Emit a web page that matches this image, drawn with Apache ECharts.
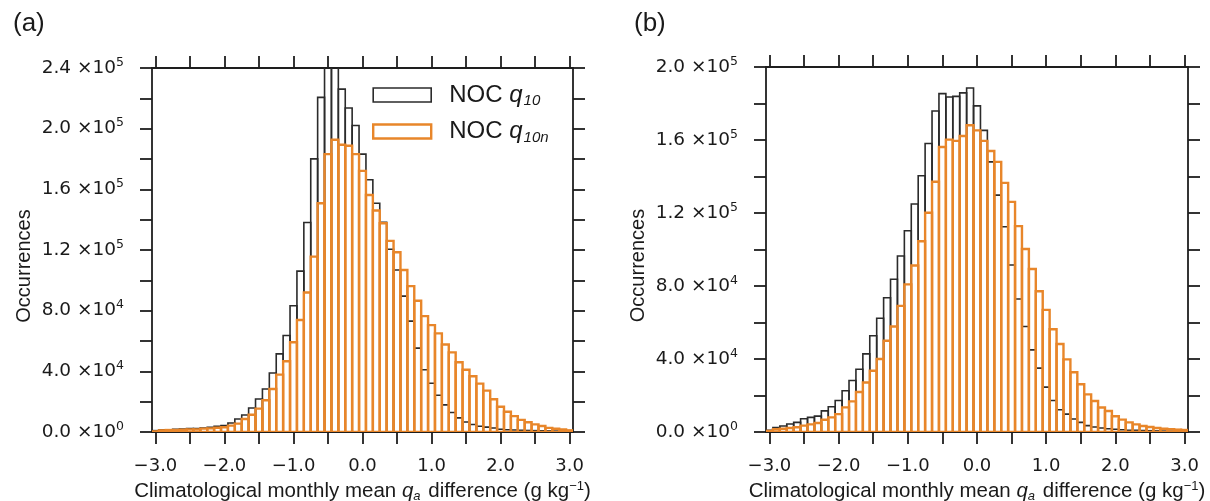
<!DOCTYPE html>
<html>
<head>
<meta charset="utf-8">
<script src="https://cdn.jsdelivr.net/npm/echarts@6/dist/echarts.min.js"></script>
<style>
  html, body { margin: 0; padding: 0; background: #fff; }
  #chart { width: 1210px; height: 501px; }
</style>
</head>
<body>
<div id="chart"></div>
<script>
// Bin centres (g kg-1), bins are 0.1 wide
const binCenters = [-3.0,-2.9,-2.8,-2.7,-2.6,-2.5,-2.4,-2.3,-2.2,-2.1,-2.0,-1.9,-1.8,-1.7,-1.6,-1.5,-1.4,-1.3,-1.2,-1.1,-1.0,-0.9,-0.8,-0.7,-0.6,-0.5,-0.4,-0.3,-0.2,-0.1,0.0,0.1,0.2,0.3,0.4,0.5,0.6,0.7,0.8,0.9,1.0,1.1,1.2,1.3,1.4,1.5,1.6,1.7,1.8,1.9,2.0,2.1,2.2,2.3,2.4,2.5,2.6,2.7,2.8,2.9,3.0];
const binWidth = 0.1;

// Panel (a) occurrences
const countsA_q10 = [900,1500,1500,1700,2000,2200,2200,2600,3100,3700,
  4200,5900,8600,11200,15800,21800,28400,38900,51500,63600,
  83200,106100,138100,180100,220600,243000,241000,226100,213600,202100,
  183200,166300,150800,138300,120500,106800,89600,73100,55300,41000,
  32100,24200,17900,12900,9300,6600,4900,3800,3200,2600,
  1800,1500,1300,1100,1000,900,800,700,600,500,
  400];
const countsA_q10n = [400,1100,1300,1300,1500,1700,1700,2200,2400,2800,
  3100,4200,5500,8600,11400,15400,20900,28400,37800,46600,
  59200,73800,92000,115600,150800,183200,192700,189400,188700,183200,
  172200,156300,146000,137600,126000,118500,106800,96200,86500,76400,
  70500,65000,57700,52500,46000,41000,36800,31900,27300,21600,
  16600,13400,10500,8000,6400,5000,4000,2700,2100,1600,
  1100];

// Panel (b) occurrences
const countsB_q10 = [1000,2500,3300,4400,5300,7300,8000,8700,11600,13800,
  17300,22600,28200,34400,42800,52700,62300,73600,83700,96400,
  110300,124900,140400,158100,175900,185400,183600,183900,185800,188500,
  178700,165300,148000,129800,112500,91500,72900,57800,45000,35000,
  24600,17300,12200,9800,7100,5300,3500,2700,2200,1800,
  1500,1200,1000,900,800,700,600,500,400,300,
  300];
const countsB_q10n = [600,1500,1800,2200,2600,3500,4200,4900,6700,8000,
  9800,13500,16800,21900,27100,33600,40000,50000,57800,69100,
  80900,91200,104500,120100,137100,156200,160200,159500,162200,168100,
  165300,159500,154000,148000,136500,126100,112800,100300,89300,77100,
  66900,56300,48200,39800,32700,26200,20600,17000,13400,11500,
  8600,6800,5300,4200,3300,2700,2200,1800,1500,1300,
  1100];

// Axis ticks and labels
const xRange = [-3.05, 3.05];
const xTickValues = [-3.0,-2.5,-2.0,-1.5,-1.0,-0.5,0.0,0.5,1.0,1.5,2.0,2.5,3.0];
const xLabelValues = [-3.0,-2.0,-1.0,0.0,1.0,2.0,3.0];
const yMaxA = 240000, yMaxB = 200000, yTickStep = 20000;
const yLabelsA = [0,40000,80000,120000,160000,200000,240000];
const yLabelsB = [0,40000,80000,120000,160000,200000];

const seriesNames = ['NOC q10', 'NOC q10n'];
const colQ10 = '#2b2b2b';
const colQ10n = '#e8862a';
const frameColor = '#1e1e1e';
const textColor = '#1a1a1a';

const tickFont = 'DejaVu Sans';
const titleFont = 'Liberation Sans';

function toData(counts) {
  return binCenters.map((c, i) => [c, counts[i]]);
}

// One open rectangle per bin, from the bin edges down to zero
function histRender(color, width) {
  return function (params, api) {
    const c = api.value(0), v = api.value(1);
    const p0 = api.coord([c - binWidth / 2, v]);
    const p1 = api.coord([c + binWidth / 2, 0]);
    return {
      type: 'rect',
      shape: { x: p0[0], y: p0[1], width: p1[0] - p0[0], height: p1[1] - p0[1] },
      style: { fill: null, stroke: color, lineWidth: width }
    };
  };
}

function sciLabel(v) {
  if (v === 0) return '{m|0.0 ×10}{e|0}';
  const e = Math.floor(Math.log10(v) + 1e-9);
  const m = (v / Math.pow(10, e)).toFixed(1);
  return '{m|' + m + ' ×10}{e|' + e + '}';
}
function xLabel(v) {
  return (v < -1e-9 ? '\u2212' : '') + Math.abs(v).toFixed(1);
}

const lineStyle = { color: frameColor, width: 1.8 };

function xAxes(gridIndex) {
  return [{
    type: 'value', gridIndex, position: 'bottom',
    min: xRange[0], max: xRange[1],
    axisLine: { show: true, onZero: false, lineStyle },
    axisTick: { show: true, length: 12, lineStyle, customValues: xTickValues },
    axisLabel: {
      show: true, customValues: xLabelValues, formatter: xLabel, margin: 25,
      fontFamily: tickFont, fontSize: 18, color: textColor
    },
    splitLine: { show: false },
    name: '{t|Climatological monthly mean }{q|q}{sub|a}{t| difference (g kg}{sup|\u22121}{t|)}',
    nameLocation: 'middle', nameGap: 41,
    nameTextStyle: {
      fontFamily: titleFont, fontSize: 20, color: textColor,
      rich: {
        t: { fontFamily: titleFont, fontSize: 20.5, color: textColor },
        q: { fontFamily: titleFont, fontSize: 20.5, fontStyle: 'italic', color: textColor },
        sub: { fontFamily: titleFont, fontSize: 13, fontStyle: 'italic', color: textColor, padding: [10, 2, 0, 0] },
        sup: { fontFamily: titleFont, fontSize: 13, color: textColor, padding: [0, 0, 10, 0] }
      }
    }
  }, {
    type: 'value', gridIndex, position: 'top',
    min: xRange[0], max: xRange[1],
    axisLine: { show: true, onZero: false, lineStyle },
    axisTick: { show: true, length: 12, lineStyle, customValues: xTickValues },
    axisLabel: { show: false },
    splitLine: { show: false }
  }];
}

function yAxes(gridIndex, yMax, labels) {
  return [{
    type: 'value', gridIndex, position: 'left',
    min: 0, max: yMax, interval: yTickStep,
    axisLine: { show: true, onZero: false, lineStyle },
    axisTick: { show: true, length: 12, lineStyle },
    axisLabel: {
      show: true, customValues: labels, formatter: sciLabel, margin: 28,
      rich: {
        m: { fontFamily: tickFont, fontSize: 18.5, color: textColor },
        e: { fontFamily: tickFont, fontSize: 12.5, color: textColor, padding: [0, 0, 11, 0] }
      }
    },
    splitLine: { show: false },
    name: 'Occurrences', nameLocation: 'middle', nameRotate: 90, nameGap: 118,
    nameTextStyle: { fontFamily: titleFont, fontSize: 20, color: textColor, padding: [0, 32, 0, 0] }
  }, {
    type: 'value', gridIndex, position: 'right',
    min: 0, max: yMax, interval: yTickStep,
    axisLine: { show: true, onZero: false, lineStyle },
    axisTick: { show: true, length: 12, lineStyle },
    axisLabel: { show: false },
    splitLine: { show: false }
  }];
}

function histSeries(name, counts, axisIdx, color, width, z) {
  return {
    name, type: 'custom', xAxisIndex: axisIdx.x, yAxisIndex: axisIdx.y,
    data: toData(counts), encode: { x: 0, y: 1 },
    renderItem: histRender(color, width), clip: true, z,
    itemStyle: { color: 'rgba(0,0,0,0)', borderColor: color, borderWidth: width },
    silent: true
  };
}

const chart = echarts.init(document.getElementById('chart'), null, { renderer: 'canvas' });

chart.setOption({
  animation: false,
  backgroundColor: '#ffffff',
  title: [
    { text: '(a)', left: 8, top: 6, textStyle: { fontFamily: titleFont, fontSize: 26, fontWeight: 'normal', color: textColor } },
    { text: '(b)', left: 629, top: 6, textStyle: { fontFamily: titleFont, fontSize: 26, fontWeight: 'normal', color: textColor } }
  ],
  grid: [
    { left: 152, right: 637, top: 68, bottom: 69, containLabel: false, outerBoundsMode: 'none' },
    { left: 766, right: 22, top: 67, bottom: 69, containLabel: false, outerBoundsMode: 'none' }
  ],
  xAxis: [...xAxes(0), ...xAxes(1)],
  yAxis: [...yAxes(0, yMaxA, yLabelsA), ...yAxes(1, yMaxB, yLabelsB)],
  legend: {
    left: 372, top: 83, orient: 'vertical', padding: 0,
    itemWidth: 58, itemHeight: 14, itemGap: 11,
    selectedMode: false,
    data: [
      { name: seriesNames[0], icon: 'rect', itemStyle: { color: 'rgba(0,0,0,0)', borderColor: colQ10, borderWidth: 1.6 } },
      { name: seriesNames[1], icon: 'rect', itemStyle: { color: 'rgba(0,0,0,0)', borderColor: colQ10n, borderWidth: 2.4 } }
    ],
    formatter: function (name) {
      const sub = name.slice(5);
      return '{n|NOC }{q|q}{s|' + sub + '}';
    },
    textStyle: {
      fontFamily: titleFont, fontSize: 24, color: textColor,
      rich: {
        n: { fontFamily: titleFont, fontSize: 24, color: textColor, padding: [0, 0, 0, 13] },
        q: { fontFamily: titleFont, fontSize: 24, fontStyle: 'italic', color: textColor },
        s: { fontFamily: titleFont, fontSize: 15, fontStyle: 'italic', color: textColor, padding: [12, 0, 0, 1] }
      }
    }
  },
  series: [
    histSeries(seriesNames[0], countsA_q10, { x: 0, y: 0 }, colQ10, 1.6, 2),
    histSeries(seriesNames[1], countsA_q10n, { x: 0, y: 0 }, colQ10n, 2.4, 3),
    histSeries(seriesNames[0], countsB_q10, { x: 2, y: 2 }, colQ10, 1.6, 2),
    histSeries(seriesNames[1], countsB_q10n, { x: 2, y: 2 }, colQ10n, 2.4, 3)
  ]
});
</script>
</body>
</html>
